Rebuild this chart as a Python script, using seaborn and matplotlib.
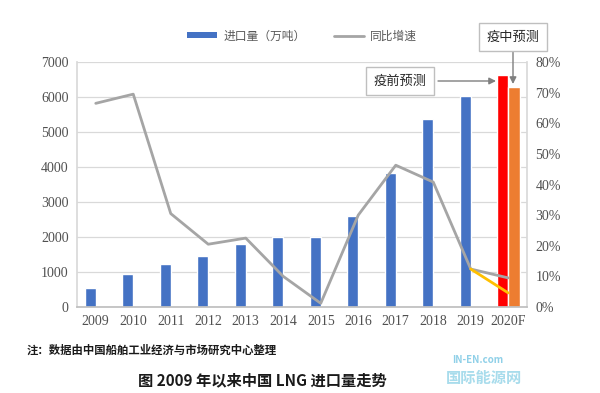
import numpy as np
import pandas as pd
import matplotlib
matplotlib.use("Agg")
import matplotlib.pyplot as plt
from matplotlib.lines import Line2D
from matplotlib.patches import Patch
import seaborn as sns

years = ["2009", "2010", "2011", "2012", "2013", "2014", "2015", "2016",
         "2017", "2018", "2019", "2020F"]
imports = [550, 930, 1220, 1460, 1800, 1990, 1990, 2600, 3820, 5380, 6030, 6630]
imports_covid = [np.nan] * 11 + [6300]
growth = [66.5, 69.5, 30.5, 20.5, 22.5, 10.0, 1.2, 30.0, 46.3, 40.8, 12.4, 9.5]
growth_covid_years = ["2019", "2020F"]
growth_covid = [12.4, 4.6]
left_ticks = [0, 1000, 2000, 3000, 4000, 5000, 6000, 7000]
right_ticks = [0, 10, 20, 30, 40, 50, 60, 70, 80]

sns.set_theme(style="white")
plt.rcParams['font.family'] = ['Noto Sans CJK SC', 'DejaVu Sans']

df = pd.DataFrame({
    "year": years * 2,
    "value": imports + imports_covid,
    "series": ["pre"] * len(years) + ["covid"] * len(years),
})

fig = plt.figure(figsize=(6, 3.93), dpi=100)
ax = fig.add_axes([77 / 600, 1 - 307 / 393, 450 / 600, 245 / 393])

blue, red, orange = "#4472C4", "#FF0000", "#ED7D31"
sns.barplot(data=df, x="year", y="value", hue="series", order=years,
            hue_order=["pre", "covid"], palette=[blue, orange], width=0.6,
            ax=ax, legend=False, saturation=1)
# color the 2020F pre-pandemic forecast bar red
for p in ax.patches:
    if p.get_x() > 10.5 and p.get_x() < 11 and p.get_height() > 6500:
        p.set_facecolor(red)

ax.set_ylim(0, 7000)
ax.set_xlim(-0.5, len(years) - 0.5)
ax.set_yticks(left_ticks)
ax.set_xlabel("")
ax.set_ylabel("")
ax.yaxis.grid(True, color="#D9D9D9", linewidth=0.9)
ax.set_axisbelow(True)
ax.spines["top"].set_visible(False)
for s in ["left", "right"]:
    ax.spines[s].set_color("#D9D9D9")
ax.spines["bottom"].set_color("#BFBFBF")
ax.tick_params(axis="both", length=0, colors="#505050", labelsize=10, pad=6)
for lab in ax.get_xticklabels() + ax.get_yticklabels():
    lab.set_family(["Liberation Serif"])

ax2 = ax.twinx()
xpos = np.arange(len(years))
sns.lineplot(x=xpos, y=growth, ax=ax2, color="#A5A5A5", linewidth=2.0)
sns.lineplot(x=[years.index(y) for y in growth_covid_years], y=growth_covid,
             ax=ax2, color="#FFC000", linewidth=2.0)
ax2.set_ylim(0, 80)
ax2.set_yticks(right_ticks)
ax2.set_yticklabels([f"{t}%" for t in right_ticks])
ax2.set_xlim(-0.5, len(years) - 0.5)
for s in ["top", "left", "right", "bottom"]:
    ax2.spines[s].set_visible(False)
ax2.tick_params(axis="y", length=0, colors="#505050", labelsize=10, pad=6)
for lab in ax2.get_yticklabels():
    lab.set_family(["Liberation Serif"])

# legend
handles = [Patch(facecolor=blue, edgecolor="none"),
           Line2D([0], [0], color="#A5A5A5", linewidth=2.0)]
fig.legend(handles, ["进口量（万吨）", "同比增速"], loc="center",
           bbox_to_anchor=(302 / 600, 1 - 36 / 393), ncol=2, frameon=False,
           fontsize=8.5, handlelength=2.6, handleheight=0.45, columnspacing=2.4,
           handletextpad=0.5, labelcolor="#595959")

# annotation boxes
box = dict(boxstyle="square,pad=0.55", facecolor="white", edgecolor="#BFBFBF", linewidth=1)
arrow = dict(arrowstyle="-|>", color="#7F7F7F", linewidth=1.0, mutation_scale=10,
             shrinkA=0, shrinkB=0)
fig.text(513 / 600, 1 - 37 / 393, "疫中预测", ha="center", va="center",
         fontsize=9.5, color="#262626", bbox=box)
fig.text(400 / 600, 1 - 81 / 393, "疫前预测", ha="center", va="center",
         fontsize=9.5, color="#262626", bbox=box)
ax.annotate("", xy=(513, 393 - 84), xytext=(513, 393 - 52),
            xycoords="figure pixels", textcoords="figure pixels", arrowprops=arrow)
ax.annotate("", xy=(496, 393 - 81), xytext=(438, 393 - 81),
            xycoords="figure pixels", textcoords="figure pixels", arrowprops=arrow)

# footnote and title
fig.text(27 / 600, 1 - 350 / 393, "注：数据由中国船舶工业经济与市场研究中心整理",
         ha="left", va="center", fontsize=8.2, fontweight="bold", color="#1a1a1a")
fig.text(262 / 600, 1 - 380 / 393, "图 2009 年以来中国 LNG 进口量走势",
         ha="center", va="center", fontsize=11, fontweight="bold", color="#1a1a1a")

# watermark
fig.text(452 / 600, 1 - 360 / 393, "IN-EN.com", ha="left", va="center",
         fontsize=7, color="#8FD0E8", fontweight="bold")
fig.text(446 / 600, 1 - 378 / 393, "国际能源网", ha="left", va="center",
         fontsize=11, color="#A8DCEC", fontweight="bold")

fig.savefig("out.png", dpi=100)
